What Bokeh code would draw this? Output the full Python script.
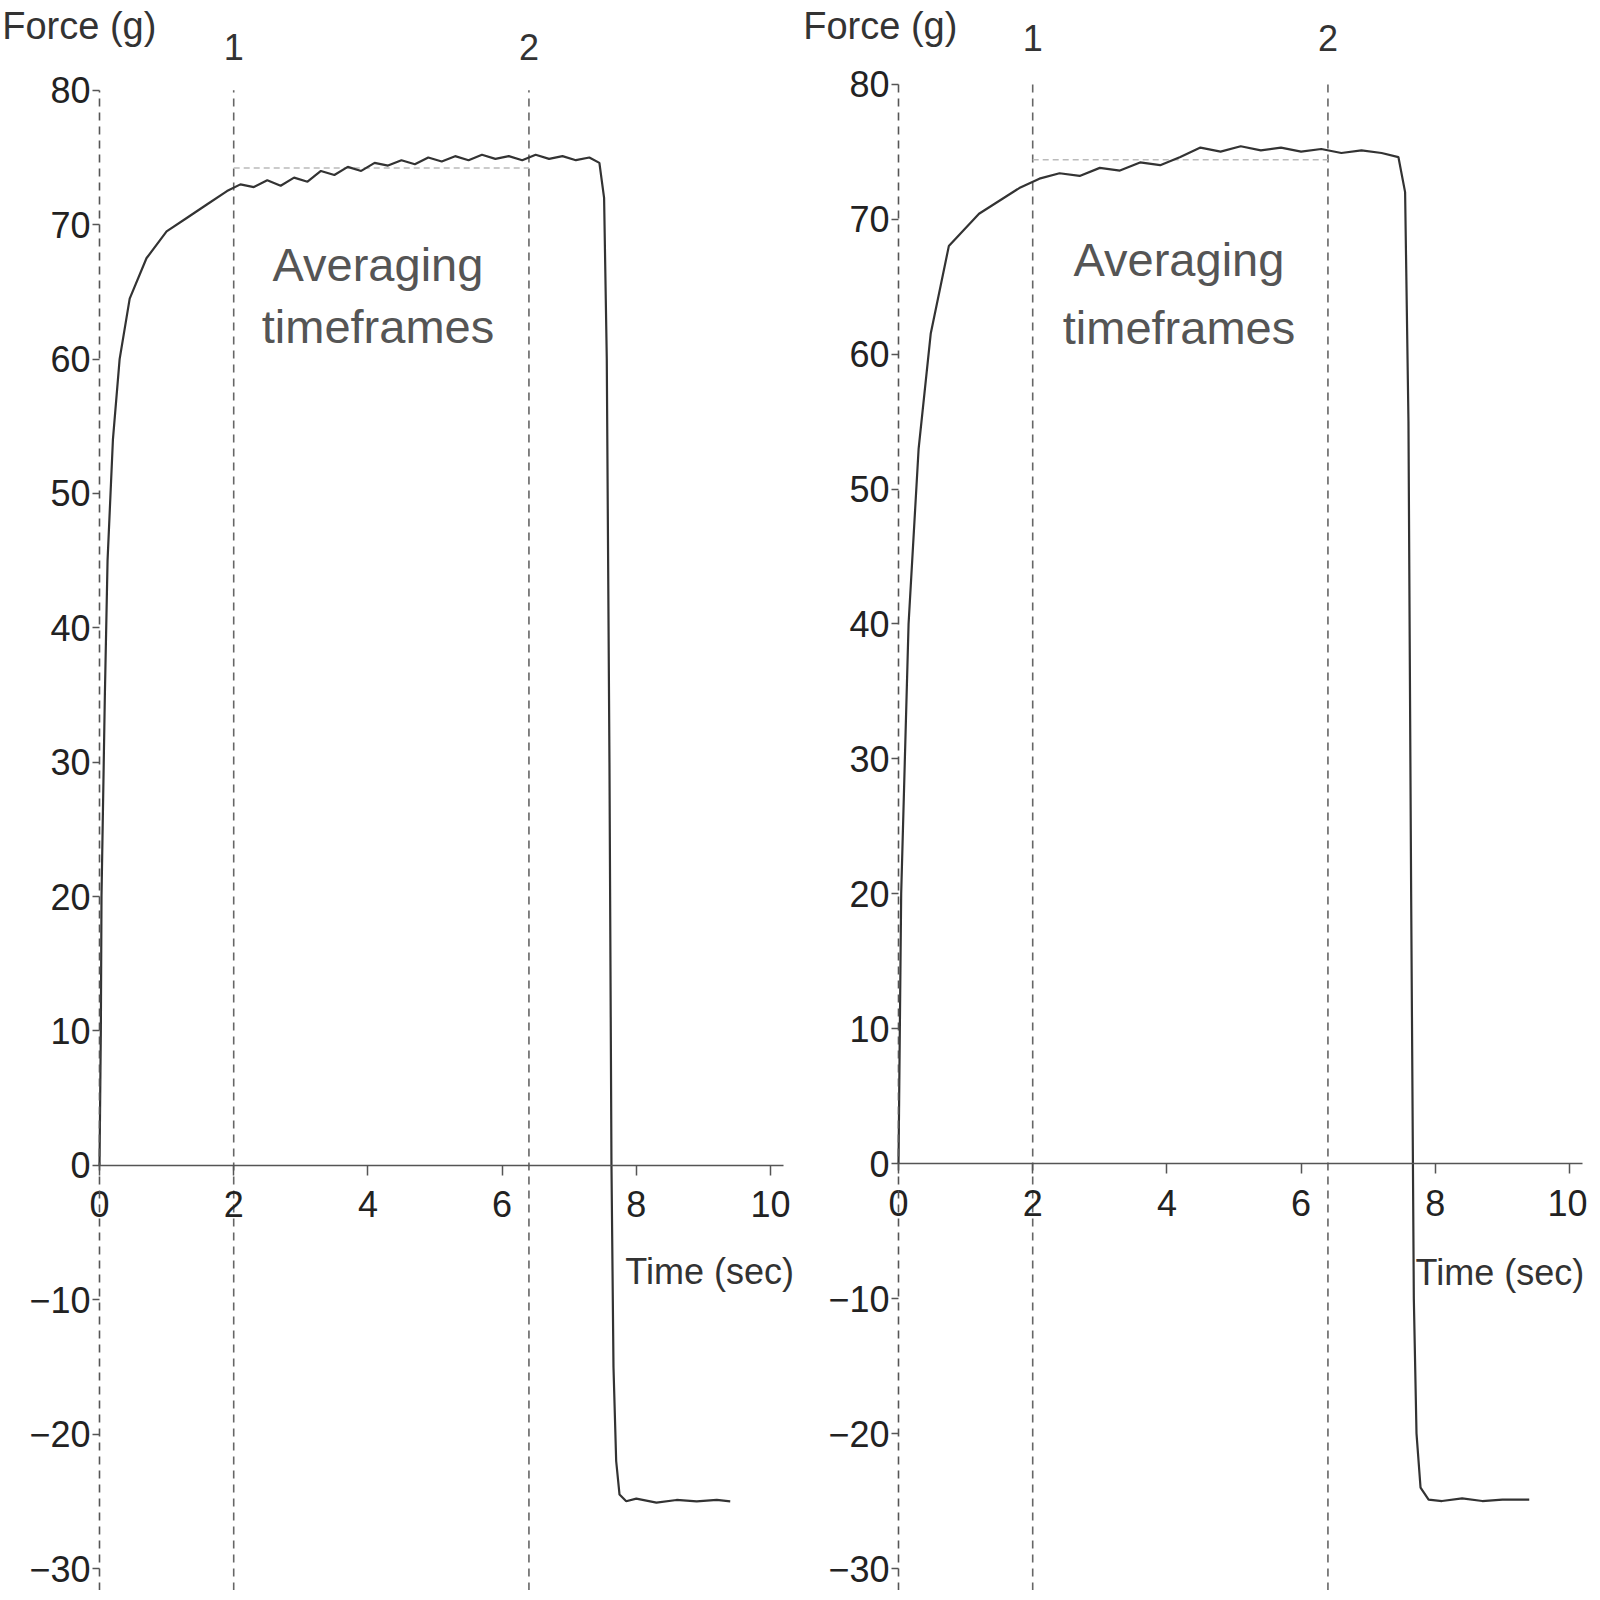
import numpy as np
from bokeh.plotting import figure
from bokeh.layouts import row
from bokeh.models import Label, FixedTicker
from bokeh.embed import file_html
from bokeh.resources import INLINE

# ---------------- data ----------------
left_time = [0.0, 0.02, 0.03, 0.08, 0.12, 0.2, 0.3, 0.45, 0.7, 1.0, 1.3, 1.6, 1.9, 2.1,
             2.3, 2.5, 2.7, 2.9, 3.1, 3.3, 3.5, 3.7, 3.9, 4.1, 4.3, 4.5, 4.7, 4.9, 5.1,
             5.3, 5.5, 5.7, 5.9, 6.1, 6.3, 6.5, 6.7, 6.9, 7.1, 7.3, 7.45, 7.52, 7.56,
             7.6, 7.63, 7.66, 7.7, 7.75, 7.85, 8.0, 8.3, 8.6, 8.9, 9.2, 9.4]
left_force = [0.0, 10.0, 20.0, 35.0, 45.0, 54.0, 60.0, 64.5, 67.5, 69.5, 70.5, 71.5, 72.5, 73.0,
              72.8, 73.3, 72.9, 73.5, 73.2, 74.0, 73.7, 74.3, 74.0, 74.6, 74.4, 74.8, 74.5, 75.0, 74.7,
              75.1, 74.8, 75.2, 74.9, 75.1, 74.8, 75.2, 74.9, 75.1, 74.8, 75.0, 74.6, 72.0, 60.0,
              30.0, 0.0, -15.0, -22.0, -24.5, -25.0, -24.8, -25.1, -24.9, -25.0, -24.9, -25.0]

right_time = [0.0, 0.02, 0.04, 0.15, 0.3, 0.48, 0.75, 1.2, 1.8, 2.1, 2.4, 2.7, 3.0, 3.3,
              3.6, 3.9, 4.2, 4.5, 4.8, 5.1, 5.4, 5.7, 6.0, 6.3, 6.6, 6.9, 7.2, 7.45, 7.55,
              7.6, 7.64, 7.68, 7.72, 7.78, 7.9, 8.1, 8.4, 8.7, 9.0, 9.4]
right_force = [0.0, 10.0, 20.0, 40.0, 53.0, 61.5, 68.0, 70.4, 72.3, 73.0, 73.4, 73.2, 73.8, 73.6,
               74.2, 74.0, 74.6, 75.3, 75.0, 75.4, 75.1, 75.3, 75.0, 75.2, 74.9, 75.1, 74.9, 74.6, 72.0,
               55.0, 20.0, -10.0, -20.0, -24.0, -24.9, -25.0, -24.8, -25.0, -24.9, -24.9]

marker_times = [2.0, 6.4]
marker_labels = ["1", "2"]
y_ticks = [-30, -20, -10, 0, 10, 20, 30, 40, 50, 60, 70, 80]
x_ticks = [0, 2, 4, 6, 8, 10]
annotation_lines = ["Averaging", "timeframes"]
y_title = "Force (g)"
x_title = "Time (sec)"

FONT = "Liberation Sans"
HEIGHT = 1590


def make_panel(t, f, width, x0_px, xscale, y80_px, ym30_px, x_axis_end,
               title_x, title_y, xt_x, xt_y, ann_x, ann_y1, ann_y2, num_y):
    yscale = (ym30_px - y80_px) / 110.0
    x_range = (-x0_px / xscale, (width - x0_px) / xscale)
    y_top = 80 + y80_px / yscale
    y_bot = -30 - (HEIGHT - ym30_px) / yscale
    p = figure(width=width, height=HEIGHT, output_backend="svg", toolbar_location=None,
               x_range=x_range, y_range=(y_bot, y_top),
               min_border=0, min_border_left=0, min_border_right=0,
               min_border_top=0, min_border_bottom=0)
    p.outline_line_color = None
    p.grid.visible = False
    p.background_fill_color = "white"
    p.border_fill_color = "white"

    # axes positioned inside the frame
    p.xaxis.fixed_location = 0
    p.yaxis.fixed_location = 0
    p.xaxis.bounds = (0, x_axis_end)
    p.yaxis.bounds = (y_bot, 80)
    p.xaxis.ticker = FixedTicker(ticks=x_ticks)
    p.yaxis.ticker = FixedTicker(ticks=y_ticks)
    for ax in (p.xaxis[0], p.yaxis[0]):
        ax.major_label_text_font = FONT
        ax.major_label_text_font_size = "36px"
        ax.major_label_text_color = "#222222"
        ax.minor_tick_line_color = None
        ax.axis_line_color = "#555555"
        ax.major_tick_line_color = "#555555"
        ax.axis_line_width = 1.6
        ax.major_tick_line_width = 1.5
    p.xaxis.major_tick_out = 10
    p.xaxis.major_tick_in = 0
    p.xaxis.major_label_standoff = 16
    p.yaxis.major_tick_out = 7
    p.yaxis.major_tick_in = 0
    p.yaxis.axis_line_dash = "8 6"
    p.yaxis.major_label_standoff = 2

    # marker lines (dashed) with their numbers above the plotting area
    p.segment(x0=marker_times, y0=[y_bot] * len(marker_times), x1=marker_times,
              y1=[80] * len(marker_times), line_color="#666666", line_dash="8 6", line_width=1.6)
    for mt, ml in zip(marker_times, marker_labels):
        p.add_layout(Label(x=mt, y=num_y, text=ml, text_align="center", text_baseline="middle",
                           text_font=FONT, text_font_size="36px", text_color="#333333"))

    # averaging level between markers
    ta = np.array(t)
    fa = np.array(f)
    sel = (ta >= marker_times[0]) & (ta <= marker_times[1])
    avg = float(fa[sel].mean())
    p.line(x=marker_times, y=[avg, avg], line_color="#bbbbbb", line_dash="6 4", line_width=1.5)

    # force trace
    p.line(x=t, y=f, line_color="#333333", line_width=2.2)

    # texts
    for txt, yy in zip(annotation_lines, (ann_y1, ann_y2)):
        p.add_layout(Label(x=ann_x, y=yy, text=txt, text_align="center",
                           text_baseline="middle", text_font=FONT, text_font_size="47px",
                           text_color="#555555"))
    p.add_layout(Label(x=title_x, y=title_y, text=y_title, text_align="left",
                       text_baseline="middle", text_font=FONT, text_font_size="38px",
                       text_color="#333333"))
    p.add_layout(Label(x=xt_x, y=xt_y, text=x_title, text_align="right",
                       text_baseline="middle", text_font=FONT, text_font_size="36px",
                       text_color="#333333"))
    return p


left = make_panel(left_time, left_force, width=800, x0_px=99, xscale=67.1,
                  y80_px=89.8, ym30_px=1568, x_axis_end=10.2,
                  title_x=-1.45, title_y=84.8, xt_x=10.35, xt_y=-7.9,
                  ann_x=4.15, ann_y1=67.0, ann_y2=62.45, num_y=83.2)
right = make_panel(right_time, right_force, width=787, x0_px=98, xscale=67.1,
                   y80_px=83.7, ym30_px=1568, x_axis_end=10.2,
                   title_x=-1.42, title_y=84.3, xt_x=10.22, xt_y=-8.1,
                   ann_x=4.18, ann_y1=67.0, ann_y2=62.0, num_y=83.4)

layout = row(left, right, spacing=0)
open("out.html", "w").write(file_html(layout, INLINE))
